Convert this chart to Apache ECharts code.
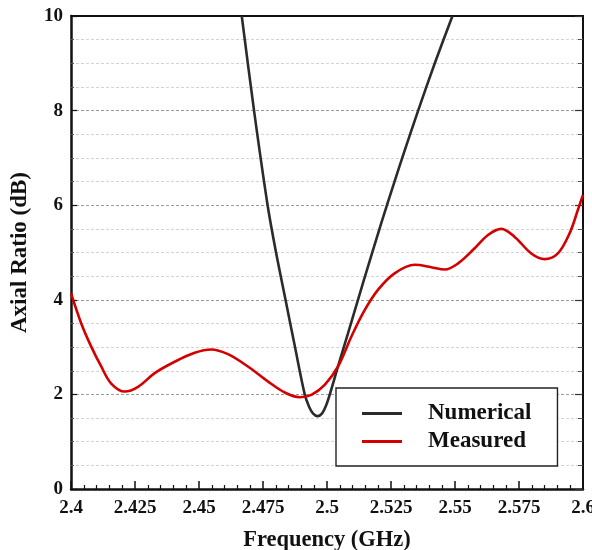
<!DOCTYPE html>
<html>
<head>
<meta charset="utf-8">
<script src="https://cdn.jsdelivr.net/npm/echarts@6/dist/echarts.min.js"></script>
<style>
html,body{margin:0;padding:0;background:#fff;}
#chart{width:592px;height:550px;}
</style>
</head>
<body>
<div id="chart"></div>
<script>
// Numerical (simulated) axial ratio
const freqNumerical = [2.4667, 2.4715, 2.4768, 2.4801, 2.4838, 2.4875, 2.4913, 2.4930, 2.4945, 2.4963, 2.4981, 2.4996, 2.5011, 2.5043, 2.5082, 2.5121, 2.5160, 2.5212, 2.5253, 2.5300, 2.5356, 2.5421, 2.5490];
const arNumerical   = [10.0,   8.0,    6.0,    5.0,    4.0,    3.0,    2.0,    1.74,   1.60,   1.54,   1.60,   1.76,   2.0,    2.59,   3.29,   4.0,    4.70,   5.62,   6.32,   7.1,    8.0,    9.0,    10.0];
// Measured axial ratio
const freqMeasured = [2.4, 2.4040, 2.4079, 2.4118, 2.4157, 2.4210, 2.4262, 2.4327, 2.4405, 2.4483, 2.4548, 2.4613, 2.4691, 2.4770, 2.4835, 2.4893, 2.4939, 2.4991, 2.5043, 2.5095, 2.5147, 2.5199, 2.5264, 2.5343, 2.5407, 2.5460, 2.5512, 2.5577, 2.5629, 2.5681, 2.5733, 2.5798, 2.5850, 2.5902, 2.5948, 2.5980, 2.6];
const arMeasured   = [4.14, 3.50, 3.01, 2.59, 2.23, 2.06, 2.16, 2.45, 2.69, 2.88, 2.95, 2.85, 2.59, 2.27, 2.04, 1.94, 1.99, 2.20, 2.59, 3.22, 3.78, 4.21, 4.56, 4.74, 4.69, 4.64, 4.77, 5.09, 5.37, 5.50, 5.33, 4.98, 4.86, 4.98, 5.41, 5.90, 6.22];
// Axis settings
const xMin = 2.4, xMax = 2.6, xStep = 0.025;
const yMin = 0, yMax = 10, yStep = 2;
const seriesNames = ['Numerical', 'Measured'];
const xTitle = 'Frequency (GHz)';
const yTitle = 'Axial Ratio (dB)';

const zip = (a, b) => a.map((v, i) => [v, b[i]]);
const font = "'Liberation Serif', 'Times New Roman', serif";

const chart = echarts.init(document.getElementById('chart'), null, {renderer: 'canvas'});
chart.setOption({
  animation: false,
  backgroundColor: '#fff',
  grid: {left: 71, right: 9, top: 16, bottom: 61, containLabel: false, outerBoundsMode: 'none'},
  legend: {
    show: true,
    left: 336, top: 388,
    orient: 'vertical',
    data: seriesNames.map(n => ({name: n, icon: 'rect'})),
    backgroundColor: '#fff',
    borderColor: '#222', borderWidth: 1.4,
    padding: [14, 26, 13, 26],
    itemGap: 5,
    itemWidth: 40, itemHeight: 3,
    textStyle: {fontFamily: font, fontWeight: 'bold', fontSize: 23, lineHeight: 22, color: '#111', padding: [0, 0, 0, 21]}
  },
  xAxis: [{
    type: 'value', min: xMin, max: xMax, interval: xStep,
    name: xTitle, nameLocation: 'middle', nameGap: 40,
    nameTextStyle: {fontFamily: font, fontWeight: 'bold', fontSize: 22.5, color: '#111'},
    axisLine: {show: true, onZero: false, lineStyle: {color: '#111', width: 2.5}},
    axisTick: {show: true, inside: true, length: 8, lineStyle: {color: '#111', width: 1.5}},
    minorTick: {show: true, splitNumber: 5, length: 4, lineStyle: {color: '#111', width: 1.2}},
    axisLabel: {fontFamily: font, fontWeight: 'bold', fontSize: 19, color: '#111', margin: 10,
      formatter: v => String(+v.toFixed(3))},
    splitLine: {show: false}
  }, {
    type: 'value', position: 'top', min: xMin, max: xMax, interval: xStep,
    axisLine: {show: true, onZero: false, lineStyle: {color: '#111', width: 2}},
    axisTick: {show: false}, axisLabel: {show: false}, splitLine: {show: false}
  }],
  yAxis: [{
    type: 'value', min: yMin, max: yMax, interval: yStep,
    name: yTitle, nameLocation: 'middle', nameGap: 39,
    nameTextStyle: {fontFamily: font, fontWeight: 'bold', fontSize: 23, color: '#111'},
    axisLine: {show: true, onZero: false, lineStyle: {color: '#111', width: 2.5}},
    axisTick: {show: true, inside: true, length: 6, lineStyle: {color: '#111', width: 1.2}},
    minorTick: {show: true, splitNumber: 4, length: 3, lineStyle: {color: '#555', width: 1}},
    axisLabel: {fontFamily: font, fontWeight: 'bold', fontSize: 19, color: '#111', margin: 8},
    splitLine: {show: true, lineStyle: {color: '#9a9a9a', type: [3, 2], width: 1.2}},
    minorSplitLine: {show: true, lineStyle: {color: '#d4d4d4', type: [3, 2], width: 1}}
  }, {
    type: 'value', position: 'right', min: yMin, max: yMax, interval: yStep,
    axisLine: {show: true, onZero: false, lineStyle: {color: '#111', width: 2}},
    axisTick: {show: true, inside: true, length: 8, lineStyle: {color: '#333', width: 1.2}},
    minorTick: {show: true, splitNumber: 4, length: 5, lineStyle: {color: '#555', width: 1}},
    axisLabel: {show: false}, splitLine: {show: false}
  }],
  series: [{
    name: seriesNames[0], type: 'line', xAxisIndex: 0, yAxisIndex: 0,
    data: zip(freqNumerical, arNumerical),
    symbol: 'none', smooth: 0.3, clip: true,
    lineStyle: {color: '#2b2b2b', width: 2.6},
    itemStyle: {color: '#2b2b2b'}, z: 3
  }, {
    name: seriesNames[1], type: 'line', xAxisIndex: 0, yAxisIndex: 0,
    data: zip(freqMeasured, arMeasured),
    symbol: 'none', smooth: 0.35, clip: true,
    lineStyle: {color: '#d40000', width: 2.6},
    itemStyle: {color: '#d40000'}, z: 4
  }]
});
</script>
</body>
</html>
